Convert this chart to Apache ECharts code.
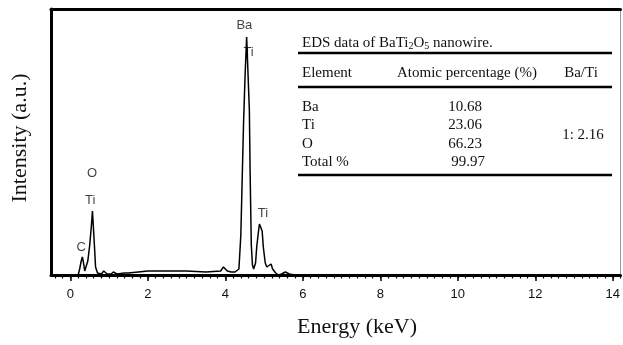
<!DOCTYPE html>
<html>
<head>
<meta charset="utf-8">
<script src="https://cdn.jsdelivr.net/npm/echarts@6/dist/echarts.min.js"></script>
<style>
  html, body { margin: 0; padding: 0; background: #fff; }
  #main { width: 623px; height: 345px; }
</style>
</head>
<body>
<div id="main"></div>
<script>
// EDS 谱线 (keV, 相对强度)
const energy = [0.0, 0.2, 0.24, 0.28, 0.31, 0.34, 0.37, 0.40, 0.45, 0.50, 0.54, 0.57, 0.60, 0.62, 0.65, 0.70,
  0.80, 0.86, 0.95, 1.05, 1.11, 1.20, 1.40, 1.50, 1.55, 2.0, 2.5, 3.0, 3.5, 3.88, 3.95, 4.05, 4.15, 4.25, 4.35,
  4.40, 4.43, 4.47, 4.51, 4.55, 4.60, 4.62, 4.64, 4.67, 4.70, 4.73, 4.78, 4.81, 4.85, 4.88, 4.92, 4.95, 4.98,
  5.03, 5.07, 5.12, 5.18, 5.22, 5.30, 5.37, 5.45, 5.55, 5.65, 5.80];
const intensity = [0, 0, 6, 14, 18, 12, 4, 6, 14, 30, 48, 64, 64, 30, 8, 2,
  1, 4, 1, 1, 3, 1, 2, 2, 4, 4, 4, 4, 3, 4, 8, 4, 3, 3, 6,
  40, 88, 152, 200, 238, 238, 165, 102, 30, 10, 6, 12, 28, 42, 51, 50, 44, 28,
  12, 8, 10, 11, 6, 2, 0, 1, 3, 1, 0];

// 峰标注
const peakNames = ['C', 'Ti', 'O', 'Ba', 'Ti', 'Ti'];
const peakX = [0.28, 0.51, 0.56, 4.49, 4.60, 4.97];
const peakY = [28, 75, 102, 250, 223, 62];

// 坐标刻度
const majorTicks = [0, 2, 4, 6, 8, 10, 12, 14];
const minorTicks = [];
for (let v = -0.4; v <= 14.2; v += 0.2) minorTicks.push(Math.round(v * 10) / 10);

// 表格
const tableTitle = 'EDS data of BaTi{s|2}O{s|5} nanowire.';
const tableHeader = ['Element', 'Atomic percentage (%)', 'Ba/Ti'];
const elements = ['Ba', 'Ti', 'O', 'Total %'];
const percentages = ['10.68', '23.06', '66.23', '99.97'];
const ratio = '1: 2.16';

const chart = echarts.init(document.getElementById('main'));

const serif = '"Liberation Serif", "Times New Roman", serif';
const sans = '"Liberation Sans", Arial, sans-serif';

const tableText = [];
tableText.push({
  type: 'text', x: 302, y: 43,
  style: {
    text: tableTitle, verticalAlign: 'middle', font: '15px ' + serif, fill: '#111',
    rich: { s: { fontSize: 10, fontFamily: serif, verticalAlign: 'bottom', padding: [7, 0, 0, 0] } }
  }
});
[[302, 'left'], [467, 'center'], [581, 'center']].forEach(function (c, i) {
  tableText.push({ type: 'text', x: c[0], y: 73,
    style: { text: tableHeader[i], align: c[1], verticalAlign: 'middle', font: '15px ' + serif, fill: '#111' } });
});
elements.forEach(function (el, i) {
  const y = 107 + i * 18.3;
  tableText.push({ type: 'text', x: 302, y: y,
    style: { text: el, verticalAlign: 'middle', font: '15px ' + serif, fill: '#111' } });
  tableText.push({ type: 'text', x: i === 3 ? 468 : 465, y: y,
    style: { text: percentages[i], align: 'center', verticalAlign: 'middle', font: '15px ' + serif, fill: '#111' } });
});
tableText.push({ type: 'text', x: 583, y: 135,
  style: { text: ratio, align: 'center', verticalAlign: 'middle', font: '15px ' + serif, fill: '#111' } });
[53, 87, 175].forEach(function (y) {
  tableText.push({ type: 'line', shape: { x1: 298, y1: y, x2: 612, y2: y },
    style: { stroke: '#000', lineWidth: 2.5 } });
});

const option = {
  animation: false,
  backgroundColor: '#fff',
  grid: { left: 51, right: 1, top: 9, bottom: 70 },
  xAxis: [
    {
      type: 'value', min: -0.5, max: 14.2, position: 'bottom',
      axisLine: { show: true, onZero: false, lineStyle: { color: '#000', width: 3 } },
      axisTick: { show: true, customValues: majorTicks, length: 6, lineStyle: { color: '#000', width: 1.5 } },
      axisLabel: { customValues: majorTicks, margin: 13, fontSize: 13, fontFamily: sans, color: '#111' },
      splitLine: { show: false }
    },
    {
      type: 'value', min: -0.5, max: 14.2, position: 'bottom', offset: 0,
      axisLine: { show: false, onZero: false },
      axisTick: { show: true, customValues: minorTicks, length: 3.5, lineStyle: { color: '#000', width: 1.2 } },
      axisLabel: { show: false },
      splitLine: { show: false }
    },
    {
      type: 'value', min: -0.5, max: 14.2, position: 'top',
      axisLine: { show: true, onZero: false, lineStyle: { color: '#000', width: 3 } },
      axisTick: { show: false }, axisLabel: { show: false }, splitLine: { show: false }
    }
  ],
  yAxis: [
    {
      type: 'value', min: 0, max: 266, position: 'left',
      axisLine: { show: true, onZero: false, lineStyle: { color: '#000', width: 3 } },
      axisTick: { show: false }, axisLabel: { show: false }, splitLine: { show: false }
    },
    {
      type: 'value', min: 0, max: 266, position: 'right',
      axisLine: { show: true, onZero: false, lineStyle: { color: '#999', width: 1 } },
      axisTick: { show: false }, axisLabel: { show: false }, splitLine: { show: false }
    }
  ],
  graphic: [
    { type: 'text', x: 357, y: 327,
      style: { text: 'Energy (keV)', align: 'center', verticalAlign: 'middle', font: '22px ' + serif, fill: '#111' } },
    { type: 'text', x: 20, y: 138, rotation: Math.PI / 2,
      style: { text: 'Intensity (a.u.)', align: 'center', verticalAlign: 'middle', font: '22px ' + serif, fill: '#111' } }
  ].concat(tableText),
  series: [
    {
      type: 'scatter',
      symbolSize: 0,
      z: 1,
      data: peakNames.map(function (n, i) { return { name: n, value: [peakX[i], peakY[i]] }; }),
      label: { show: true, position: 'inside', formatter: '{b}', fontSize: 13, fontFamily: sans, color: '#111' }
    },
    {
      type: 'line',
      z: 3,
      showSymbol: false,
      data: energy.map(function (e, i) { return [e, intensity[i]]; }),
      lineStyle: { color: '#000', width: 1.5 }
    }
  ]
};

chart.setOption(option);
</script>
</body>
</html>
